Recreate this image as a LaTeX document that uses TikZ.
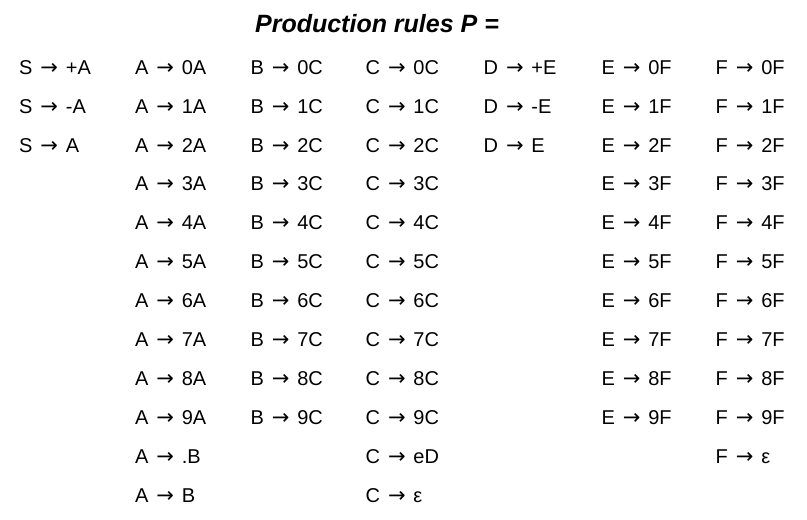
\documentclass[tikz,border=0pt]{standalone}
\usepackage{fontspec}
\setmainfont{Liberation Sans}
\newfontfamily\arrowfont{DejaVu Sans}
\usetikzlibrary{positioning}
% arrow glyph of DejaVu Sans in the room of the Liberation one
\newlength\arw
\settowidth{\arw}{\fontsize{20}{24}\selectfont →}
\newcommand\ar{\hbox to \arw{\hss\arrowfont\fontsize{21}{24}\selectfont →\hss}}
\begin{document}
\begin{tikzpicture}[
    x=1pt,y=1pt,
    font=\fontsize{20}{24}\selectfont
  ]
\def\rd{19.5pt}

\tikzstyle{rule}=[inner sep=0pt,text height=15pt,text depth=4pt,text width=95pt,align=left,node distance=\rd]
\useasboundingbox (0,0) rectangle (807,520);

\node[font=\fontsize{25}{30}\selectfont\bfseries\itshape,inner sep=0pt,anchor=base] (title) at (377,487) {Production rules P =};

% first row
\node[rule,anchor=base west] (s1) at (19,445.7) {S \ar{} +A};
\node[rule,anchor=base west] (a0) at (135,445.7) {A \ar{} 0A};
\node[rule,anchor=base west] (b0) at (250.5,445.7) {B \ar{} 0C};
\node[rule,anchor=base west] (c0) at (365.5,445.7) {C \ar{} 0C};
\node[rule,anchor=base west] (d1) at (483.5,445.7) {D \ar{} +E};
\node[rule,anchor=base west] (e0) at (601.5,445.7) {E \ar{} 0F};
\node[rule,anchor=base west] (f0) at (715.5,445.7) {F \ar{} 0F};

% S
\node[rule,below = of s1] (s2) {S \ar{} -A};
\node[rule,below = of s2] (s3) {S \ar{} A};

% A
\node[rule,below = of a0] (a1) {A \ar{} 1A};
\node[rule,below = of a1] (a2) {A \ar{} 2A};
\node[rule,below = of a2] (a3) {A \ar{} 3A};
\node[rule,below = of a3] (a4) {A \ar{} 4A};
\node[rule,below = of a4] (a5) {A \ar{} 5A};
\node[rule,below = of a5] (a6) {A \ar{} 6A};
\node[rule,below = of a6] (a7) {A \ar{} 7A};
\node[rule,below = of a7] (a8) {A \ar{} 8A};
\node[rule,below = of a8] (a9) {A \ar{} 9A};
\node[rule,below = of a9] (adot) {A \ar{} .B};
\node[rule,below = of adot] (ab) {A \ar{} B};

% B
\node[rule,below = of b0] (b1) {B \ar{} 1C};
\node[rule,below = of b1] (b2) {B \ar{} 2C};
\node[rule,below = of b2] (b3) {B \ar{} 3C};
\node[rule,below = of b3] (b4) {B \ar{} 4C};
\node[rule,below = of b4] (b5) {B \ar{} 5C};
\node[rule,below = of b5] (b6) {B \ar{} 6C};
\node[rule,below = of b6] (b7) {B \ar{} 7C};
\node[rule,below = of b7] (b8) {B \ar{} 8C};
\node[rule,below = of b8] (b9) {B \ar{} 9C};

% C
\node[rule,below = of c0] (c1) {C \ar{} 1C};
\node[rule,below = of c1] (c2) {C \ar{} 2C};
\node[rule,below = of c2] (c3) {C \ar{} 3C};
\node[rule,below = of c3] (c4) {C \ar{} 4C};
\node[rule,below = of c4] (c5) {C \ar{} 5C};
\node[rule,below = of c5] (c6) {C \ar{} 6C};
\node[rule,below = of c6] (c7) {C \ar{} 7C};
\node[rule,below = of c7] (c8) {C \ar{} 8C};
\node[rule,below = of c8] (c9) {C \ar{} 9C};
\node[rule,below = of c9] (ced) {C \ar{} eD};
\node[rule,below = of ced] (ceps) {C \ar{} ε};

% D
\node[rule,below = of d1] (d2) {D \ar{} -E};
\node[rule,below = of d2] (d3) {D \ar{} E};

% E
\node[rule,below = of e0] (e1) {E \ar{} 1F};
\node[rule,below = of e1] (e2) {E \ar{} 2F};
\node[rule,below = of e2] (e3) {E \ar{} 3F};
\node[rule,below = of e3] (e4) {E \ar{} 4F};
\node[rule,below = of e4] (e5) {E \ar{} 5F};
\node[rule,below = of e5] (e6) {E \ar{} 6F};
\node[rule,below = of e6] (e7) {E \ar{} 7F};
\node[rule,below = of e7] (e8) {E \ar{} 8F};
\node[rule,below = of e8] (e9) {E \ar{} 9F};

% F
\node[rule,below = of f0] (f1) {F \ar{} 1F};
\node[rule,below = of f1] (f2) {F \ar{} 2F};
\node[rule,below = of f2] (f3) {F \ar{} 3F};
\node[rule,below = of f3] (f4) {F \ar{} 4F};
\node[rule,below = of f4] (f5) {F \ar{} 5F};
\node[rule,below = of f5] (f6) {F \ar{} 6F};
\node[rule,below = of f6] (f7) {F \ar{} 7F};
\node[rule,below = of f7] (f8) {F \ar{} 8F};
\node[rule,below = of f8] (f9) {F \ar{} 9F};
\node[rule,below = of f9] (feps) {F \ar{} ε};

\end{tikzpicture}
\end{document}
